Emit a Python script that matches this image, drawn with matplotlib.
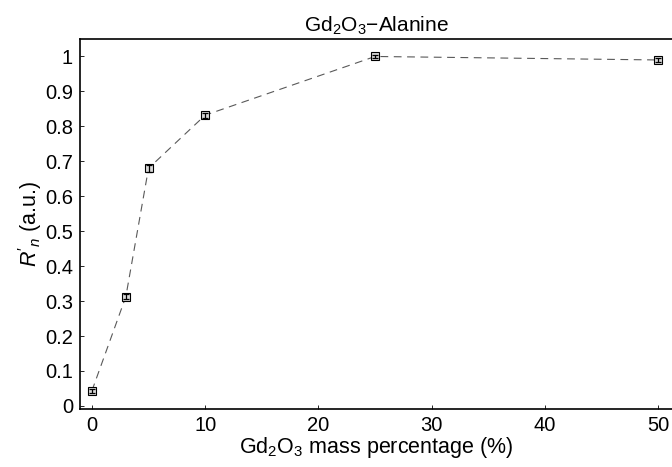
import matplotlib.pyplot as plt
import numpy as np

plt.rcParams['font.family'] = ['Liberation Sans', 'DejaVu Sans']
plt.rcParams['mathtext.fontset'] = 'custom'
plt.rcParams['mathtext.rm'] = 'Liberation Sans'
plt.rcParams['mathtext.it'] = 'Liberation Sans:italic'

mass_pct = [0, 3, 5, 10, 25, 50]
resp = [0.043, 0.313, 0.68, 0.832, 1.0, 0.99]
err = [0.006, 0.006, 0.010, 0.007, 0.004, 0.006]
xticks = [0, 10, 20, 30, 40, 50]
yticks = [0, 0.1, 0.2, 0.3, 0.4, 0.5, 0.6, 0.7, 0.8, 0.9, 1]

fig = plt.figure(figsize=(6.72, 4.67), dpi=100)
ax = fig.add_axes([0.119, 0.124, 0.881, 0.7925])
ax.plot(mass_pct, resp, color='0.35', lw=0.8, dashes=(7, 5), zorder=1)
ax.plot(mass_pct, resp, 's', ms=6, mfc='0.85', mec='black', mew=0.8, zorder=2)
ax.errorbar(mass_pct, resp, yerr=err, fmt='none', ecolor='black',
            elinewidth=0.9, capsize=2, capthick=0.9, zorder=3)

ax.set_xlim(-1.05, 51.2)
ax.set_ylim(-0.009, 1.05)
ax.set_xticks(xticks)
ax.set_yticks(yticks)
ax.set_yticklabels([f'{v:g}' for v in yticks])
ax.tick_params(direction='in', length=3, width=0.6, labelsize=14.5, pad=5)
ax.spines['right'].set_visible(False)
for s in ['left', 'bottom', 'top']:
    ax.spines[s].set_linewidth(1.2)

ax.set_title('Gd$_2$O$_3$\u2212Alanine', fontsize=15, pad=5)
ax.set_xlabel('Gd$_2$O$_3$ mass percentage (%)', fontsize=15.5, labelpad=0)
ax.set_ylabel("$R'_n$ (a.u.)", fontsize=15.5, labelpad=1)

fig.savefig('out.png', dpi=100)
